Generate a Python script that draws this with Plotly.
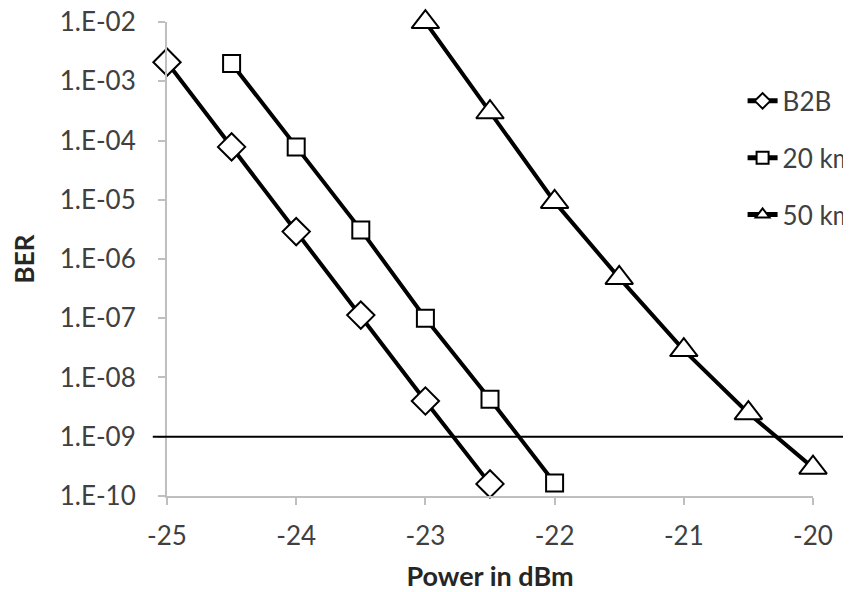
import plotly.graph_objects as go

power_b2b = [-25, -24.5, -24, -23.5, -23, -22.5]
ber_b2b = [2.1e-3, 7.8e-5, 2.9e-6, 1.13e-7, 4.0e-9, 1.6e-10]

power_20 = [-24.5, -24, -23.5, -23, -22.5, -22]
ber_20 = [2.0e-3, 7.8e-5, 3.1e-6, 1.0e-7, 4.3e-9, 1.66e-10]

power_50 = [-23, -22.5, -22, -21.5, -21, -20.5, -20]
ber_50 = [1.0e-2, 3.0e-4, 9.2e-6, 4.8e-7, 2.9e-8, 2.5e-9, 3.0e-10]

threshold = 1e-9
ytick_vals = [1e-10, 1e-9, 1e-8, 1e-7, 1e-6, 1e-5, 1e-4, 1e-3, 1e-2]
ytick_text = ["1.E-10", "1.E-09", "1.E-08", "1.E-07", "1.E-06", "1.E-05", "1.E-04", "1.E-03", "1.E-02"]
xtick_vals = [-25, -24, -23, -22, -21, -20]
xtick_text = ["-25", "-24", "-23", "-22", "-21", "-20"]

FONT = "Lato"
TXT = "#404040"
FS = 26

fig = go.Figure()
series = [
    ("B2B", power_b2b, ber_b2b, "diamond", 21),
    ("20 km", power_20, ber_20, "square", 17),
    ("50 km", power_50, ber_50, "triangle-up", 24),
]
for i, (name, xs, ys, sym, sz) in enumerate(series):
    fig.add_trace(go.Scatter(
        x=xs, y=ys, name=name, mode="lines+markers",
        line=dict(color="black", width=4),
        marker=dict(symbol=sym, size=sz, color="white",
                    line=dict(color="black", width=2)),
        legendgroup=str(i), cliponaxis=False,
    ))

fig.add_shape(type="line", xref="paper", yref="y", x0=-0.022, x1=1.07,
              y0=threshold, y1=threshold, line=dict(color="black", width=2))

fig.update_layout(
    width=843, height=584,
    margin=dict(l=159, r=38, t=14, b=96, autoexpand=False),
    paper_bgcolor="white", plot_bgcolor="white",
    font=dict(family=FONT, size=FS, color=TXT),
    showlegend=True,
    legend=dict(x=0.891, y=0.883, xanchor="left", yanchor="top",
                bgcolor="rgba(0,0,0,0)", font=dict(size=FS, color=TXT),
                tracegroupgap=20, itemwidth=30, itemsizing="constant"),
)
fig.update_xaxes(range=[-25, -20], tickvals=xtick_vals, ticktext=xtick_text, showgrid=False,
                 showline=True, linecolor="#bfbfbf", linewidth=2,
                 ticks="outside", tickcolor="#bfbfbf", ticklen=7, tickwidth=2,
                 zeroline=False, ticklabelstandoff=9, automargin=False,
                 ticklabeloverflow="allow",
                 title=dict(text="<b>Power in dBm</b>", font=dict(size=27, color="#262626"), standoff=22))
fig.update_yaxes(type="log", range=[-10.0005, -1.9995], tickvals=ytick_vals, ticktext=ytick_text,
                 showgrid=False, showline=True, linecolor="#bfbfbf", linewidth=2,
                 ticks="outside", tickcolor="#bfbfbf", ticklen=7, tickwidth=2,
                 zeroline=False, ticklabelstandoff=17, automargin=False,
                 ticklabeloverflow="allow",
                 title=dict(text="<b>BER</b>", font=dict(size=FS, color="#262626"), standoff=22))

fig.write_html("out.html")
